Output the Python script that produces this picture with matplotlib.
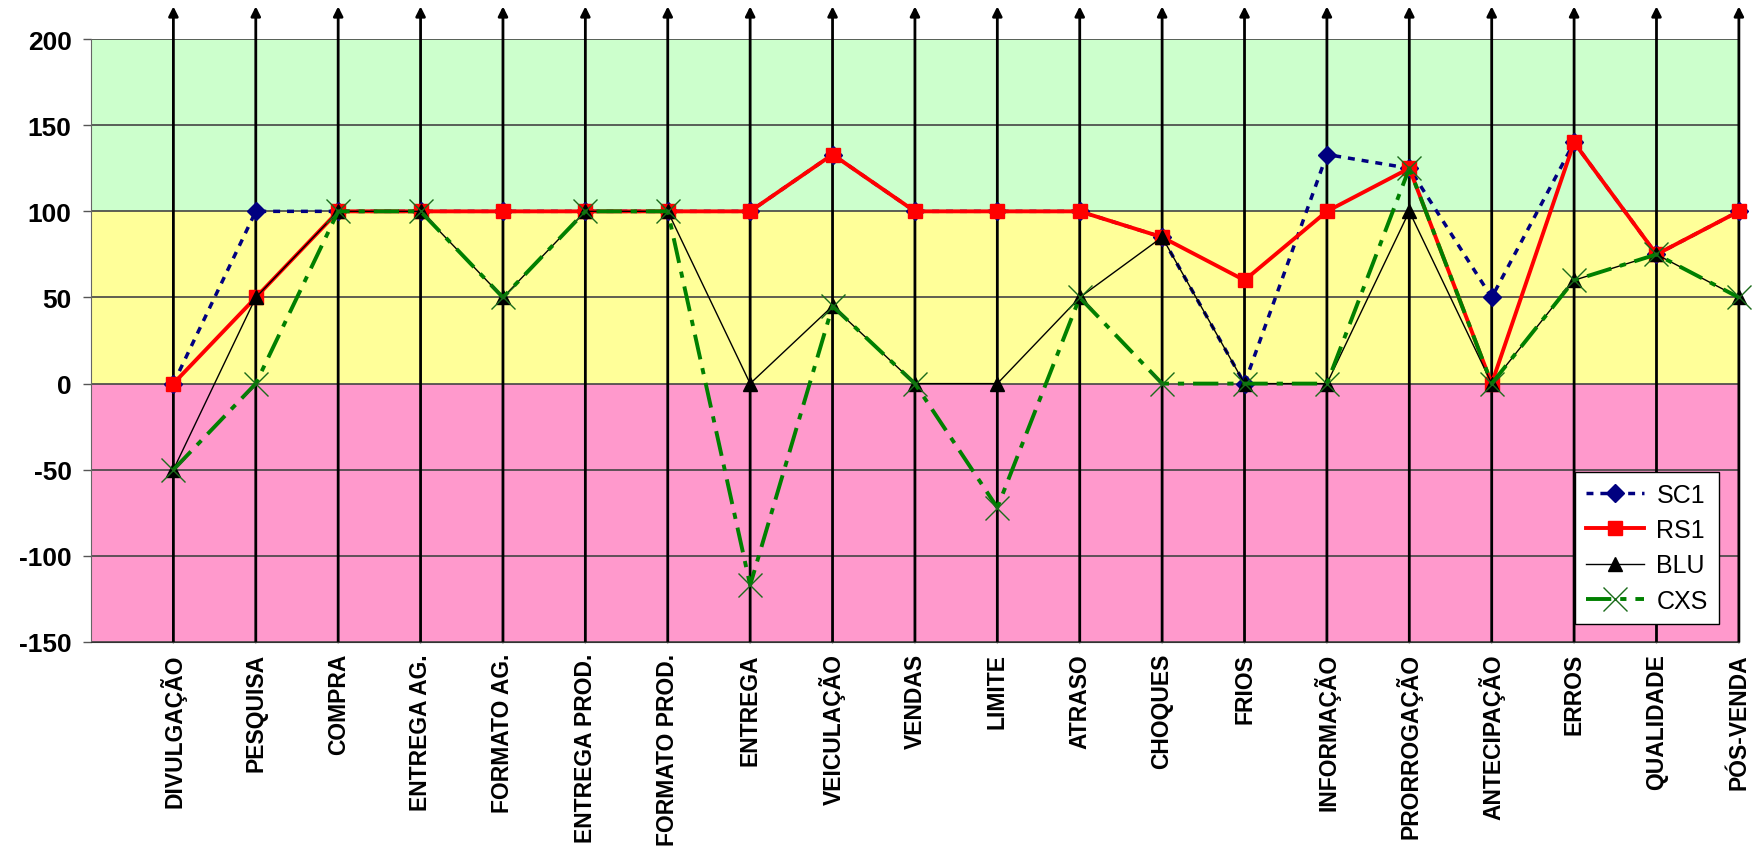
import numpy as np
import matplotlib.pyplot as plt

plt.rcParams['font.family'] = ['Liberation Sans', 'DejaVu Sans']

categorias = ['DIVULGAÇÃO', 'PESQUISA', 'COMPRA', 'ENTREGA AG.', 'FORMATO AG.',
              'ENTREGA PROD.', 'FORMATO PROD.', 'ENTREGA', 'VEICULAÇÃO', 'VENDAS',
              'LIMITE', 'ATRASO', 'CHOQUES', 'FRIOS', 'INFORMAÇÃO', 'PRORROGAÇÃO',
              'ANTECIPAÇÃO', 'ERROS', 'QUALIDADE', 'PÓS-VENDA']

sc1 = [0, 100, 100, 100, 100, 100, 100, 100, 133, 100, 100, 100, 85, 0, 133, 125, 50, 140, 75, 100]
rs1 = [0, 50, 100, 100, 100, 100, 100, 100, 133, 100, 100, 100, 85, 60, 100, 125, 0, 140, 75, 100]
blu = [-50, 50, 100, 100, 50, 100, 100, 0, 45, 0, 0, 50, 85, 0, 0, 100, 0, 60, 75, 50]
cxs = [-50, 0, 100, 100, 50, 100, 100, -117, 45, 0, -72, 50, 0, 0, 0, 125, 0, 60, 75, 50]

yticks = [-150, -100, -50, 0, 50, 100, 150, 200]

x = np.arange(1, len(categorias) + 1)

fig = plt.figure(figsize=(17.6, 8.53), dpi=100)
ax = fig.add_axes([0.0517, 0.2462, 0.9363, 0.7068])

# faixas de fundo
ax.axhspan(100, 200, color='#CCFFCC', zorder=0, lw=0)
ax.axhspan(0, 100, color='#FFFF99', zorder=0, lw=0)
ax.axhspan(-150, 0, color='#FF99CC', zorder=0, lw=0)

for y in yticks:
    ax.axhline(y, color='#444444', lw=1.2, zorder=1)

# setas verticais
for xi in x:
    ax.annotate('', xy=(xi, 219), xytext=(xi, -150),
                arrowprops=dict(arrowstyle='-|>', color='black', lw=2,
                                shrinkA=0, shrinkB=0, mutation_scale=14),
                annotation_clip=False, zorder=2)

ax.plot(x, sc1, color='#000080', lw=2.5, ls=(0, (2, 2)), marker='D', ms=9,
        label='SC1', zorder=3, clip_on=False)
ax.plot(x, rs1, color='#FF0000', lw=2.8, marker='s', ms=10,
        label='RS1', zorder=4, clip_on=False)
ax.plot(x, blu, color='black', lw=1, marker='^', ms=10,
        label='BLU', zorder=5, clip_on=False)
ax.plot(x, cxs, color='#008000', lw=2.8, ls=(0, (6.5, 2.3, 1.6, 2.3)), marker='x',
        ms=17, mew=1, mec='#1a6b1a', label='CXS', zorder=6, clip_on=False)

ax.set_xlim(0, 20)
ax.set_ylim(-150, 200)
ax.set_yticks(yticks)
ax.set_yticklabels([str(v) for v in yticks], fontsize=19, fontweight='bold')
ax.set_xticks(x)
ax.set_xticklabels(categorias, rotation=90, fontsize=16.5, fontweight='bold')
ax.tick_params(axis='x', length=0, pad=8)
ax.tick_params(axis='y', length=6, width=1, color='#555555', pad=8)

for s in ['top', 'right']:
    ax.spines[s].set_visible(False)
ax.spines['left'].set_color('#666666')
ax.spines['bottom'].set_color('#333333')

leg = ax.legend(loc='lower right', bbox_to_anchor=(0.988, 0.03), borderaxespad=0,
                fontsize=18, frameon=True, fancybox=False, handlelength=2.3,
                labelspacing=0.45, borderpad=0.45, handletextpad=0.5)
leg.get_frame().set_edgecolor('black')
leg.get_frame().set_linewidth(1)
leg.get_frame().set_alpha(1)
leg.set_zorder(10)

fig.savefig('out.png', dpi=100)
